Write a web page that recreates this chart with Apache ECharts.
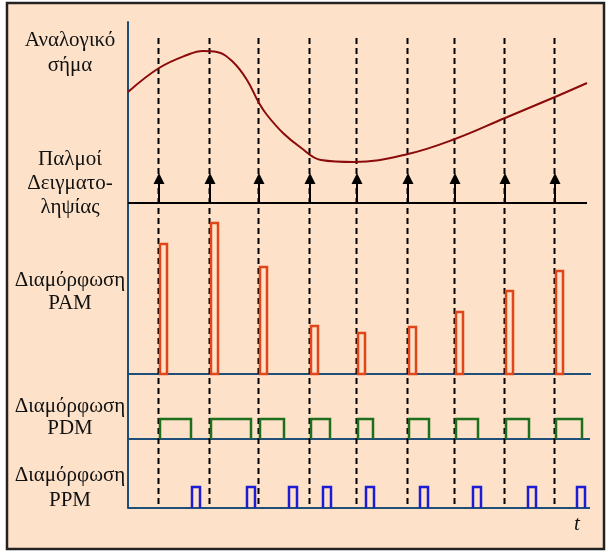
<!DOCTYPE html>
<html>
<head>
<meta charset="utf-8">
<script src="https://cdn.jsdelivr.net/npm/echarts@6/dist/echarts.min.js"></script>
<style>
  html, body { margin: 0; padding: 0; background: #fff; }
  #chart { width: 608px; height: 551px; }
</style>
</head>
<body>
<div id="chart"></div>
<script>
// time axis: 0 = left axis, values in the picture's own units
const sampleT = [31, 82, 131, 182, 229, 280, 327, 377, 427]

// analog signal (smooth curve through these points)
const analogT = [0, 31, 59, 75, 89, 105, 119, 131, 139, 155, 172, 193, 226, 280, 327, 377, 427, 459]
const analogV = [416, 440, 453, 457, 456, 446, 428, 405, 393, 375, 361, 348, 346, 354, 369, 390, 411, 425]

// levels of each strip
const samplingBase = 305
const samplingTop = 335
const pamBase = 134
const pdmBase = 69
const ppmBase = 0
const dashTop = 470

// PAM amplitudes, PDM widths, PPM positions
const pamAmp = [130, 151, 107, 48, 41, 47, 62, 83, 103]
const pamWidth = 8
const pdmWidth = [32, 41, 25, 20, 16, 21, 23, 24, 27]
const pdmHeight = 20
const ppmT = [63, 118, 160, 194, 237, 291, 344, 399, 448]
const ppmWidth = 9
const ppmHeight = 21

// baselines: [start, end, level]
const baseLines = [
  [0, 459, samplingBase, '#000'],
  [0, 463, pamBase, '#1f4e79'],
  [0, 462, pdmBase, '#1f4e79'],
  [0, 462, ppmBase, '#1f4e79']
]

const labels = [
  { text: 'Αναλογικό', y: 47 },
  { text: 'σήμα', y: 72 },
  { text: 'Παλμοί', y: 166 },
  { text: 'Δειγματο-', y: 190 },
  { text: 'ληψίας', y: 214 },
  { text: 'Διαμόρφωση', y: 287 },
  { text: 'PAM', y: 310 },
  { text: 'Διαμόρφωση', y: 413 },
  { text: 'PDM', y: 435 },
  { text: 'Διαμόρφωση', y: 482 },
  { text: 'PPM', y: 507 }
]

const chart = echarts.init(document.getElementById('chart'))

function pulseItem(color, closed) {
  return function (params, api) {
    const a = api.coord([api.value(0), api.value(2)])
    const b = api.coord([api.value(1), api.value(3)])
    const x0 = a[0] + 1
    if (closed) {
      return {
        type: 'rect',
        shape: { x: x0, y: b[1], width: b[0] - x0, height: a[1] - b[1] },
        style: { fill: 'none', stroke: color, lineWidth: 2.5 }
      }
    }
    return {
      type: 'polyline',
      shape: { points: [[x0, a[1]], [x0, b[1]], [b[0], b[1]], [b[0], a[1]]] },
      style: { fill: 'none', stroke: color, lineWidth: 2.5 }
    }
  }
}

const serif = 'Liberation Serif'

const option = {
  animation: false,
  grid: { left: 128, top: 22, width: 470, height: 486 },
  xAxis: {
    type: 'value', min: 0, max: 470,
    show: false
  },
  yAxis: {
    type: 'value', min: 0, max: 486,
    axisLine: { show: true, lineStyle: { color: '#1f4e79', width: 2 } },
    axisTick: { show: false },
    axisLabel: { show: false },
    splitLine: { show: false }
  },
  graphic: [
    {
      type: 'rect', z: -10,
      shape: { x: 7, y: 3, width: 597, height: 546 },
      style: { fill: '#fde2c9', stroke: '#222', lineWidth: 2.5 }
    },
    ...labels.map(l => ({
      type: 'text', z: 100,
      x: 70, y: l.y + 4,
      style: {
        text: l.text, fill: '#111', fontSize: 21, fontFamily: serif,
        textAlign: 'center', textVerticalAlign: 'bottom'
      }
    })),
    {
      type: 'text', z: 100, x: 577, y: 535,
      style: {
        text: 't', fill: '#111', fontSize: 21, fontFamily: serif, fontStyle: 'italic',
        textAlign: 'center', textVerticalAlign: 'bottom'
      }
    }
  ],
  series: [
    // baselines
    ...baseLines.map(b => ({
      type: 'line',
      data: [[b[0], b[2]], [b[1], b[2]]],
      symbol: 'none',
      lineStyle: { color: b[3], width: 2 },
      z: 3
    })),
    // dashed sample lines
    {
      type: 'custom',
      renderItem: function (params, api) {
        const top = api.coord([api.value(0), api.value(2)])
        const bot = api.coord([api.value(0), api.value(1)])
        return {
          type: 'line',
          shape: { x1: top[0] - 0.5, y1: top[1], x2: bot[0] - 0.5, y2: bot[1] },
          style: { stroke: '#000', lineWidth: 2, lineDash: [6, 4] }
        }
      },
      data: sampleT.map(t => [t, 0, dashTop]),
      z: 4
    },
    // PAM pulses
    {
      type: 'custom',
      renderItem: pulseItem('#e0461a', true),
      data: sampleT.map((t, i) => [t, t + pamWidth, pamBase, pamBase + pamAmp[i]]),
      z: 5
    },
    // PDM pulses
    {
      type: 'custom',
      renderItem: pulseItem('#1d6f1d', false),
      data: sampleT.map((t, i) => [t, t + pdmWidth[i], pdmBase, pdmBase + pdmHeight]),
      z: 5
    },
    // PPM pulses
    {
      type: 'custom',
      renderItem: pulseItem('#1c1cd6', false),
      data: ppmT.map(t => [t, t + ppmWidth, ppmBase, ppmBase + ppmHeight]),
      z: 5
    },
    // sampling pulses (arrows)
    {
      type: 'custom',
      renderItem: function (params, api) {
        const bot = api.coord([api.value(0), api.value(1)])
        const tip = api.coord([api.value(0), api.value(2)])
        return {
          type: 'group',
          children: [
            {
              type: 'line',
              shape: { x1: bot[0], y1: bot[1], x2: tip[0], y2: tip[1] + 8 },
              style: { stroke: '#000', lineWidth: 2 }
            },
            {
              type: 'polygon',
              shape: { points: [[tip[0], tip[1]], [tip[0] - 5.5, tip[1] + 11], [tip[0] + 5.5, tip[1] + 11]] },
              style: { fill: '#000' }
            }
          ]
        }
      },
      data: sampleT.map(t => [t, samplingBase, samplingTop]),
      z: 6
    },
    // analog signal
    {
      type: 'line',
      data: analogT.map((t, i) => [t, analogV[i]]),
      smooth: 0.4,
      symbol: 'none',
      lineStyle: { color: '#8b0a0a', width: 2 },
      z: 7
    }
  ]
}

chart.setOption(option)
</script>
</body>
</html>
